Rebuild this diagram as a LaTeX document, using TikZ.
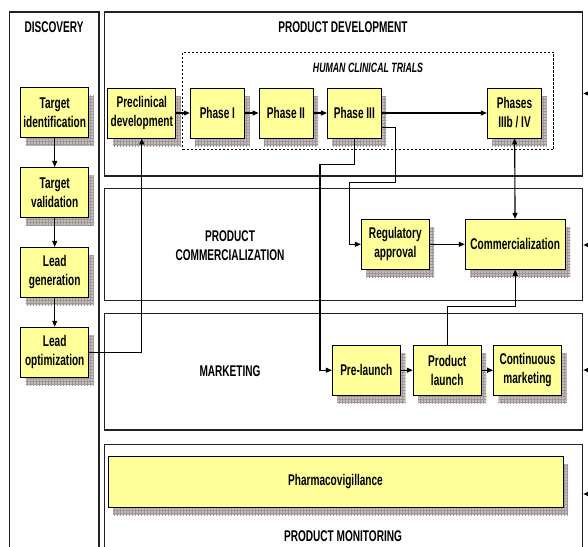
\documentclass[tikz,border=0pt]{standalone}
\usepackage{fontspec}
\setmainfont{Liberation Sans}[FakeStretch=0.65]
\usepackage{xcolor}
\usepackage{tikz}
\usetikzlibrary{positioning}
\usetikzlibrary{shadows}
\usetikzlibrary{patterns}
\usetikzlibrary{arrows.meta}

\definecolor{stageyellow}{RGB}{255,255,153}
\definecolor{stageshade}{RGB}{196,188,188}
\definecolor{shadegrid}{RGB}{160,150,150}
\definecolor{laneline}{RGB}{34,34,34}

\tikzset{
  stage/.style={draw=black, line width=0.9pt, fill=stageyellow, align=center,
    inner sep=0pt, minimum width=68pt, minimum height=50pt,
    font=\fontsize{15.5}{19}\selectfont\bfseries,
    drop shadow={shadow xshift=5pt, shadow yshift=-8pt, fill=stageshade, opacity=1},
    drop shadow={shadow xshift=5pt, shadow yshift=-8pt, pattern=grid, pattern color=shadegrid, opacity=1}},
  lane/.style={draw=laneline, line width=1.2pt, inner sep=0pt},
  title/.style={font=\fontsize{15.5}{19}\selectfont\bfseries, align=center},
  flow/.style={draw=black, line width=1.1pt},
}

\begin{document}
\begin{tikzpicture}[x=1pt, y=-1pt, >={Triangle[length=6pt,width=5pt]}]
			\useasboundingbox (0,0) rectangle (588,546);
			% lanes
			\node (disc)	[lane, minimum width=89.5pt, minimum height=548pt]	at (54.25,286)	{};
			\node (dev)		[lane, minimum width=478.4pt, minimum height=164pt]	at (343.5,94)	{};
			\node (com)		[lane, minimum width=478.4pt, minimum height=112.4pt]	at (343.5,244.5)	{};
			\node (mkt)		[lane, minimum width=478.4pt, minimum height=116.7pt]	at (343.5,371.7)	{};
			\node (mon)		[lane, minimum width=478.4pt, minimum height=116pt]	at (343.5,502.7)	{};
			\node (trials)	[draw, dash pattern=on 2.5pt off 1.5pt, line width=0.9pt, minimum width=371pt, minimum height=97.4pt]	at (368.2,101)	{};
			% titles
			\node (discT)	[title]	at (54,27)		{DISCOVERY};
			\node (devT)	[title]	at (343,27)		{PRODUCT DEVELOPMENT};
			\node (trialsT)	[title, font=\fontsize{13.5}{16}\selectfont\bfseries\itshape]	at (368,68)	{HUMAN CLINICAL TRIALS};
			\node (comT)	[title]	at (230,246)	{PRODUCT\\COMMERCIALIZATION};
			\node (mktT)	[title]	at (230,371)	{MARKETING};
			\node (monT)	[title]	at (343,536)	{PRODUCT MONITORING};
			% discovery
			\node (tid)		[stage]	at (54.7,112.5)	{Target\\identification};
			\node (tval)	[stage, below=29pt of tid]	{Target\\validation}
				edge [flow,<-] (tid)
			;
			\node (lgen)	[stage, below=29pt of tval]	{Lead\\generation}
				edge [flow,<-] (tval)
			;
			\node (lopt)	[stage, below=29pt of lgen]	{Lead\\optimization}
				edge [flow,<-] (lgen)
			;
			% development
			\node (precl)	[stage]	at (141.8,113)	{Preclinical\\development};
			\node (ph1)		[stage, minimum width=54.4pt, right=13.5pt of precl]	{Phase I}
				edge [flow,<-] (precl)
			;
			\node (ph2)		[stage, minimum width=54pt, right=13.5pt of ph1]	{Phase II}
				edge [flow,<-] (ph1)
			;
			\node (ph3)		[stage, minimum width=54pt, right=13.5pt of ph2]	{Phase III}
				edge [flow,<-] (ph2)
			;
			\node (ph4)		[stage, minimum width=54.4pt]	at (514.5,113)	{Phases\\IIIb / IV}
				edge [flow,<-] (ph3)
			;
			% commercialization
			\node (reg)		[stage]	at (395.3,244.3)	{Regulatory\\approval};
			\node (comm)	[stage, minimum width=100pt, right=35pt of reg]	{Commercialization}
				edge [flow,<-] (reg)
				edge [flow,<->] (ph4)
			;
			% marketing
			\node (prel)	[stage]	at (366.3,370.2)	{Pre-launch};
			\node (plaunch)	[stage, right=12pt of prel]	{Product\\launch}
				edge [flow,<-] (prel)
			;
			\node (cont)	[stage, right=11.4pt of plaunch]	{Continuous\\marketing}
				edge [flow,<-] (plaunch)
			;
			% monitoring
			\node (pharma)	[stage, minimum width=455pt, minimum height=51pt]	at (335.5,481.5)	{Pharmacovigillance};
			% cross links
			\draw [flow,->] (lopt.east) -| (precl.south);
			\draw [flow,->] (ph3.south) |- ++(-34.4,26.3) |- (prel.west);
			\draw [flow,->] ([yshift=-14.7pt]ph3.east) -- ++(14,0) -- ++(0,55) -- ++(-46,0) |- (reg.west);
			\draw [flow,->] (plaunch.north) -- ++(0,-38.6) -| (comm.south);
			% inputs from the right
			\coordinate (in1) at (598,93.5);
			\coordinate (in2) at (598,245);
			\coordinate (in3) at (598,370);
			\coordinate (in4) at (598,494);
			\draw [flow,->] (in1) -- (in1 -| dev.east);
			\draw [flow,->] (in2) -- (in2 -| com.east);
			\draw [flow,->] (in3) -- (in3 -| mkt.east);
			\draw [flow,->] (in4) -- (in4 -| mon.east);
		\end{tikzpicture}
\end{document}
